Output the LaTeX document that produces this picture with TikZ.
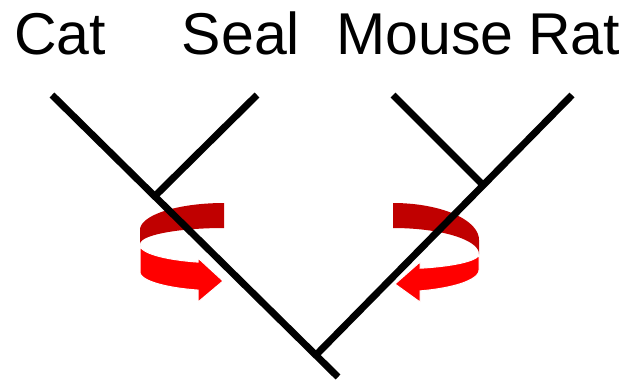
\documentclass[tikz,border=0pt]{standalone}
\usepackage{fontspec}
\setmainfont{Liberation Sans}
\definecolor{backred}{HTML}{C00000}
\definecolor{frontred}{HTML}{FF0000}

\tikzstyle{taxon}=[anchor=base,inner sep=0pt,font=\fontsize{59}{70}\selectfont]
\tikzstyle{branch}=[draw=black,line width=7pt]
\tikzstyle{backband}=[fill=backred]
\tikzstyle{frontband}=[fill=frontred,draw=white,line width=1pt,line join=miter]

\begin{document}
\begin{tikzpicture}[x=1pt,y=-1pt]
	\useasboundingbox (0,0) rectangle (628,380);
	%Labels
	\foreach \pos/\name/\txt in {{(60,54)/cat/Cat}, {(241,54)/seal/Seal}, {(425,54)/mouse/Mouse}, {(574,54)/rat/Rat}}
		\node[taxon] (\name) at \pos {\txt};
	%Leaf tips
	\coordinate (tipcat) at (52,95);
	\coordinate (tipseal) at (257,95);
	\coordinate (tipmouse) at (393,95);
	\coordinate (tiprat) at (572,95);
	%Inner nodes
	\coordinate (catseal) at (155,196);
	\coordinate (mouserat) at (483,185);
	\coordinate (root) at (316,355);
	\coordinate (stem) at (338,377);
	%Back halves of the turns
	\fill[backband] plot[domain=90:180,samples=40] ({224+84*cos(\x)},{230-27*sin(\x)})
		-- plot[domain=180:90,samples=40] ({224+84*cos(\x)},{244-16*sin(\x)}) -- cycle;
	\fill[backband] plot[domain=90:0,samples=40] ({393+86*cos(\x)},{240-37*sin(\x)})
		-- plot[domain=0:90,samples=40] ({393+86*cos(\x)},{254-26*sin(\x)}) -- cycle;
	%Tree
	\draw[branch] (tipcat) -- (stem);
	\draw[branch] (tipseal) -- (catseal);
	\draw[branch] (tipmouse) -- (mouserat);
	\draw[branch] (tiprat) -- (root);
	%Front halves with heads
	\filldraw[frontband] plot[domain=180:252,samples=40] ({224+84*cos(\x)},{245-18*sin(\x)})
		-- (198,258) -- (223,281) -- (198,302)
		-- plot[domain=252:180,samples=40] ({224+84*cos(\x)},{272-19*sin(\x)}) -- cycle;
	\filldraw[frontband] plot[domain=0:-71.7,samples=40] ({393+86*cos(\x)},{254-15*sin(\x)})
		-- (420,262) -- (395,284) -- (420,302)
		-- plot[domain=-71.7:0,samples=40] ({393+86*cos(\x)},{270-22*sin(\x)}) -- cycle;
\end{tikzpicture}
\end{document}
